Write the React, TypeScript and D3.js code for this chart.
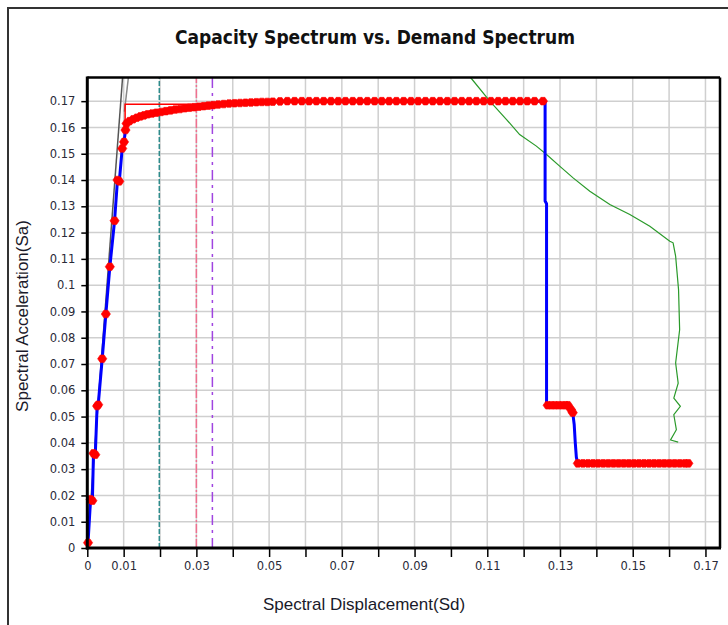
import { useEffect, useRef } from "react";
import * as d3 from "d3";

const WIDTH = 728;
const HEIGHT = 625;

// axis ticks
const xTicks = [0, 0.01, 0.02, 0.03, 0.04, 0.05, 0.06, 0.07, 0.08, 0.09, 0.1, 0.11, 0.12, 0.13, 0.14, 0.15, 0.16, 0.17];
const xLabels = [0, 0.01, 0.03, 0.05, 0.07, 0.09, 0.11, 0.13, 0.15, 0.17];
const yTicks = [0, 0.01, 0.02, 0.03, 0.04, 0.05, 0.06, 0.07, 0.08, 0.09, 0.1, 0.11, 0.12, 0.13, 0.14, 0.15, 0.16, 0.17];

// capacity curve, split where the markers stop
const capRise = [
  [0.0002, 0.002], [0.0009, 0.0185], [0.0014, 0.018], [0.0017, 0.036], [0.0022, 0.0355],
  [0.0027, 0.054], [0.003, 0.0545], [0.0041, 0.072], [0.0051, 0.089], [0.0062, 0.107],
  [0.0075, 0.1245], [0.0083, 0.14], [0.0088, 0.1395], [0.0096, 0.152], [0.0101, 0.1545],
  [0.0105, 0.159],
];
const capTop = [
  [0.0108, 0.1615], [0.0116, 0.1624], [0.0126, 0.1631], [0.0136, 0.1637], [0.0146, 0.1642],
  [0.0156, 0.1646], [0.0166, 0.165], [0.0178, 0.1653], [0.019, 0.1656], [0.0203, 0.1659],
  [0.0216, 0.1662], [0.0229, 0.1665], [0.0242, 0.1668], [0.0255, 0.167], [0.0268, 0.1673],
  [0.0281, 0.1675], [0.0294, 0.1677], [0.0307, 0.1679], [0.032, 0.1681], [0.0333, 0.1683],
  [0.0346, 0.1685], [0.036, 0.1687], [0.0375, 0.1689], [0.039, 0.1691], [0.0405, 0.1692],
  [0.042, 0.1693], [0.0435, 0.1694], [0.045, 0.1695], [0.0465, 0.1696], [0.048, 0.1697],
  [0.0495, 0.1697], [0.051, 0.1698], [0.053, 0.1699], [0.055, 0.17], [0.057, 0.17],
  [0.059, 0.17], [0.061, 0.17], [0.063, 0.17], [0.065, 0.17], [0.067, 0.17], [0.069, 0.17],
  [0.071, 0.17], [0.073, 0.17], [0.075, 0.17], [0.077, 0.17], [0.079, 0.17], [0.081, 0.17],
  [0.083, 0.17], [0.085, 0.17], [0.087, 0.17], [0.089, 0.17], [0.091, 0.17], [0.093, 0.17],
  [0.095, 0.17], [0.097, 0.17], [0.099, 0.17], [0.101, 0.17], [0.103, 0.17], [0.105, 0.17],
  [0.107, 0.17], [0.109, 0.17], [0.111, 0.17], [0.113, 0.17], [0.115, 0.17], [0.117, 0.17],
  [0.119, 0.17], [0.121, 0.17], [0.123, 0.17], [0.1253, 0.17],
];
const capDrop1 = [[0.1259, 0.1698], [0.1259, 0.132], [0.1263, 0.131], [0.1263, 0.0548]];
const capMid = [
  [0.1266, 0.0543], [0.1276, 0.0543], [0.1286, 0.0543], [0.1296, 0.0543], [0.1306, 0.0543],
  [0.1316, 0.0543], [0.1322, 0.0543], [0.133, 0.0527], [0.1335, 0.0515],
];
const capDrop2 = [[0.1339, 0.047], [0.1342, 0.04], [0.1345, 0.0345]];
const capLow = [
  [0.1349, 0.0322], [0.1363, 0.0322], [0.1377, 0.0322], [0.1391, 0.0322], [0.1405, 0.0322],
  [0.1419, 0.0322], [0.1433, 0.0322], [0.1447, 0.0322], [0.1461, 0.0322], [0.1475, 0.0322],
  [0.1489, 0.0322], [0.1503, 0.0322], [0.1517, 0.0322], [0.1531, 0.0322], [0.1545, 0.0322],
  [0.1559, 0.0322], [0.1573, 0.0322], [0.1587, 0.0322], [0.1601, 0.0322], [0.1615, 0.0322],
  [0.1629, 0.0322], [0.1643, 0.0322], [0.1653, 0.0322],
];

// bilinear fit (thin red)
const bilinear = [[0.0104, 0.158], [0.0104, 0.1688], [0.031, 0.1688]];

// initial stiffness lines
const stiffness1 = [[0, 0], [0.0097, 0.179]];
const stiffness2 = [[0.0102, 0.166], [0.0113, 0.179]];

// demand spectrum (green)
const demand = [
  [0.1054, 0.179], [0.1107, 0.17], [0.1153, 0.163], [0.1189, 0.1573], [0.1235, 0.1529],
  [0.1263, 0.1497], [0.1299, 0.1453], [0.1336, 0.1408], [0.1382, 0.1357], [0.1437, 0.1307],
  [0.1492, 0.1269], [0.1547, 0.1224], [0.1602, 0.1167], [0.1611, 0.1161], [0.1618, 0.111],
  [0.1626, 0.0983], [0.1629, 0.083], [0.1618, 0.0704], [0.1625, 0.0627], [0.1613, 0.057],
  [0.1631, 0.0539], [0.1613, 0.0507], [0.162, 0.045], [0.1604, 0.0411], [0.1625, 0.0403],
];

// vertical reference lines
const refLines = [
  { sd: 0.0198, color: "#2e8b8b", dash: "5,2" },
  { sd: 0.03, color: "#f0708f", dash: "9,2,2,2" },
  { sd: 0.0344, color: "#a044e0", dash: "10,5,3,5" },
];

export default function App() {
  const ref = useRef<SVGSVGElement>(null);

  useEffect(() => {
    const svg = d3.select(ref.current);
    svg.selectAll("*").remove();

    const x = d3.scaleLinear().domain([0, 0.174]).range([87.3, 720]);
    const y = d3.scaleLinear().domain([0, 0.179]).range([548, 77.5]);
    const line = d3.line<number[]>().x((d) => x(d[0])).y((d) => y(d[1]));

    svg.append("rect").attr("width", WIDTH).attr("height", HEIGHT).attr("fill", "#fff");
    svg.append("rect").attr("x", 8).attr("y", 8).attr("width", 800).attr("height", 700)
      .attr("fill", "none").attr("stroke", "#333").attr("stroke-width", 2);

    // grid
    const grid = svg.append("g").attr("stroke", "#cfcfcf").attr("stroke-width", 1.5);
    grid.selectAll("line.v").data(xTicks.slice(1)).join("line")
      .attr("x1", (d) => x(d)).attr("x2", (d) => x(d))
      .attr("y1", y(0)).attr("y2", y(0.179));
    grid.selectAll("line.h").data(yTicks.slice(1)).join("line").attr("class", "h")
      .attr("x1", x(0)).attr("x2", x(0.174))
      .attr("y1", (d) => y(d)).attr("y2", (d) => y(d));

    svg.append("g").selectAll("line").data(refLines).join("line")
      .attr("x1", (d) => x(d.sd)).attr("x2", (d) => x(d.sd))
      .attr("y1", y(0)).attr("y2", y(0.179))
      .attr("stroke", (d) => d.color).attr("stroke-width", 1.5)
      .attr("stroke-dasharray", (d) => d.dash);

    svg.append("path").attr("d", line(demand)).attr("fill", "none")
      .attr("stroke", "#2a9a2a").attr("stroke-width", 1.2);

    svg.append("path").attr("d", line(stiffness1)).attr("fill", "none")
      .attr("stroke", "#555").attr("stroke-width", 1.5);
    svg.append("path").attr("d", line(stiffness2)).attr("fill", "none")
      .attr("stroke", "#888").attr("stroke-width", 1.5);

    svg.append("path").attr("d", line(bilinear)).attr("fill", "none")
      .attr("stroke", "#ff0000").attr("stroke-width", 1.5);

    const blue = [[0, 0], ...capRise, ...capTop, ...capDrop1, ...capMid, ...capDrop2, ...capLow];
    svg.append("path").attr("d", line(blue)).attr("fill", "none")
      .attr("stroke", "#0000ff").attr("stroke-width", 3).attr("stroke-linejoin", "round");

    const markers = [...capRise, ...capTop, ...capMid, ...capLow];
    svg.append("g").selectAll("path").data(markers).join("path")
      .attr("transform", (d) => `translate(${x(d[0])},${y(d[1])})`)
      .attr("d", "M-2,-3.8L2,-3.8L4.6,0L2,3.8L-2,3.8L-4.6,0Z")
      .attr("fill", "#ff0000").attr("stroke", "#ff0000").attr("stroke-width", 0.6);

    // axes
    const xAxis = svg.append("g").attr("transform", `translate(0,${y(0)})`)
      .call(d3.axisBottom(x).tickValues(xTicks).tickSize(9).tickPadding(5)
        .tickFormat((d) => (xLabels.includes(+d) ? String(+d) : "")));
    const yAxis = svg.append("g").attr("transform", `translate(${x(0)},0)`)
      .call(d3.axisLeft(y).tickValues(yTicks).tickSize(6).tickPadding(6)
        .tickFormat((d) => String(+d)));
    [xAxis, yAxis].forEach((g) => {
      g.select(".domain").remove();
      g.selectAll("line").attr("stroke", "#000").attr("stroke-width", 1.5);
      g.selectAll("text").attr("fill", "#2a2a38").attr("font-family", "DejaVu Sans, sans-serif")
        .attr("font-size", 11.5);
    });

    // frame
    const frame = svg.append("g").attr("stroke", "#000");
    frame.append("line").attr("x1", x(0)).attr("x2", x(0.174)).attr("y1", y(0.179)).attr("y2", y(0.179)).attr("stroke-width", 2.5);
    frame.append("line").attr("x1", x(0.174)).attr("x2", x(0.174)).attr("y1", y(0.179)).attr("y2", y(0)).attr("stroke-width", 2.5);
    frame.append("line").attr("x1", x(0)).attr("x2", x(0)).attr("y1", y(0.179) - 1).attr("y2", y(0) + 1.5).attr("stroke-width", 3);
    frame.append("line").attr("x1", x(0) - 1.5).attr("x2", x(0.174) + 1).attr("y1", y(0)).attr("y2", y(0)).attr("stroke-width", 3);

    svg.append("text").attr("x", 375).attr("y", 44).attr("text-anchor", "middle")
      .attr("font-family", "Liberation Sans Narrow, DejaVu Sans Condensed, sans-serif")
      .attr("font-weight", "bold").attr("font-size", 19).attr("fill", "#111")
      .text("Capacity Spectrum vs. Demand Spectrum");
    svg.append("text").attr("x", 364).attr("y", 610).attr("text-anchor", "middle")
      .attr("font-family", "Liberation Sans, Arial, sans-serif").attr("font-size", 17)
      .attr("fill", "#1a1a2a").text("Spectral Displacement(Sd)");
    svg.append("text").attr("transform", "translate(28,316) rotate(-90)").attr("text-anchor", "middle")
      .attr("font-family", "Liberation Sans, Arial, sans-serif").attr("font-size", 17)
      .attr("fill", "#1a1a2a").text("Spectral Acceleration(Sa)");
  }, []);

  return (
    <svg ref={ref} width={WIDTH} height={HEIGHT}
      style={{ position: "absolute", left: 0, top: 0, display: "block" }} />
  );
}
